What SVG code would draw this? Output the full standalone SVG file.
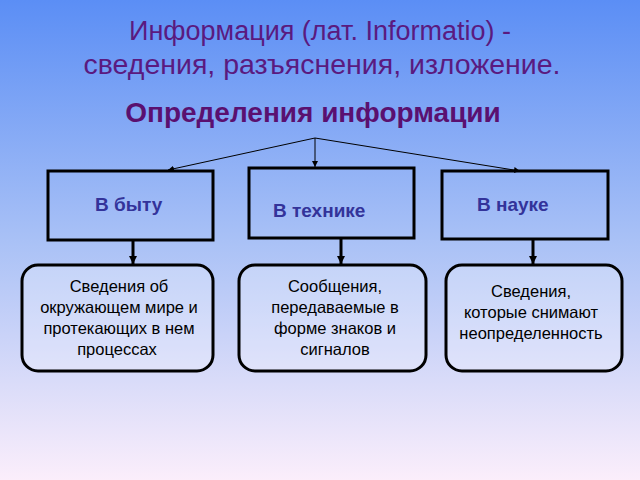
<svg xmlns="http://www.w3.org/2000/svg" width="640" height="480" viewBox="0 0 640 480">
<defs>
<linearGradient id="bg" x1="0" y1="0" x2="0" y2="1">
<stop offset="0" stop-color="#5b8ef5"/><stop offset="0.5" stop-color="#a9c1f6"/><stop offset="1" stop-color="#fbeefb"/>
</linearGradient>
<marker id="a" markerWidth="8" markerHeight="8" refX="6" refY="3" orient="auto" markerUnits="userSpaceOnUse"><path d="M0,0 L6,3 L0,6 z" fill="#000"/></marker>
<marker id="b" markerWidth="10" markerHeight="10" refX="8" refY="4" orient="auto" markerUnits="userSpaceOnUse"><path d="M0,0 L8,4 L0,8 z" fill="#000"/></marker>
</defs>
<style>
.t{font-family:"Liberation Sans",Arial,sans-serif}
.box{fill:none;stroke:#000;stroke-width:3}
.rb{fill:#fff;fill-opacity:0.25;stroke:#000;stroke-width:3}
.lab{font-family:"Liberation Sans",Arial,sans-serif;font-size:19px;font-weight:bold;fill:#33339a}
.bt{font-family:"Liberation Sans",Arial,sans-serif;font-size:16.5px;fill:#000;text-anchor:middle}
</style>
<rect width="640" height="480" fill="url(#bg)"/>
<text class="t" x="320" y="40" font-size="27" fill="#5a1a80" text-anchor="middle">Информация (лат. Informatio) -</text>
<text class="t" x="322" y="74" font-size="28.5" fill="#5a1a80" text-anchor="middle">сведения, разъяснения, изложение.</text>
<text class="t" x="313" y="122" font-size="28" font-weight="bold" fill="#5a1070" text-anchor="middle">Определения информации</text>
<g id="connectors" stroke="#000">
<line x1="315" y1="138" x2="168" y2="170" stroke-width="1" marker-end="url(#a)"/>
<line x1="315" y1="138" x2="315" y2="167" stroke-width="1" marker-end="url(#a)"/>
<line x1="315" y1="138" x2="520" y2="171" stroke-width="1" marker-end="url(#a)"/>
<line x1="133" y1="241" x2="133" y2="264" stroke-width="3" marker-end="url(#b)"/>
<line x1="341" y1="239" x2="341" y2="264" stroke-width="3" marker-end="url(#b)"/>
<line x1="533" y1="240" x2="533" y2="264" stroke-width="3" marker-end="url(#b)"/>
</g>
<g id="n1"><rect class="box" x="48" y="171" width="165" height="69"/><text class="lab" x="95" y="211">В быту</text></g>
<g id="n2"><rect class="box" x="249" y="168" width="165" height="70"/><text class="lab" x="273" y="217">В технике</text></g>
<g id="n3"><rect class="box" x="442" y="171" width="166" height="68"/><text class="lab" x="477" y="211">В науке</text></g>
<g id="n4"><rect class="rb" x="22" y="265" width="191" height="106" rx="16"/>
<text class="bt" x="119" y="292">Сведения  об</text><text class="bt" x="119" y="313">окружающем мире и</text><text class="bt" x="119" y="334">протекающих в нем</text><text class="bt" x="117" y="355">процессах</text></g>
<g id="n5"><rect class="rb" x="239" y="265" width="187" height="106" rx="16"/>
<text class="bt" x="335" y="292">Сообщения,</text><text class="bt" x="335" y="313">передаваемые в</text><text class="bt" x="335" y="334">форме знаков и</text><text class="bt" x="335" y="355">сигналов</text></g>
<g id="n6"><rect class="rb" x="446" y="265" width="176" height="106" rx="16"/>
<text class="bt" x="531" y="297">Сведения,</text><text class="bt" x="531" y="318">которые снимают</text><text class="bt" x="531" y="339">неопределенность</text></g>
</svg>
